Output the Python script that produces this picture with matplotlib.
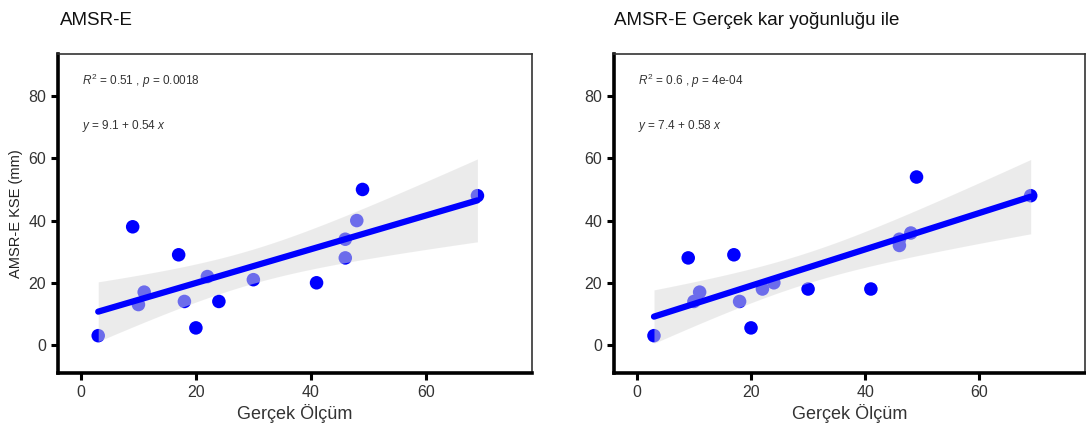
import numpy as np
import matplotlib
matplotlib.use("Agg")
import matplotlib.pyplot as plt

# Gerçek ölçüm (x) ve AMSR-E KSE (y), iki panel
x_obs = [3, 9, 10, 11, 17, 18, 20, 22, 24, 30, 41, 46, 46, 48, 49, 69]
y_amsr = [3, 38, 13, 17, 29, 14, 5.5, 22, 14, 21, 20, 34, 28, 40, 50, 48]
y_amsr_dens = [3, 28, 14, 17, 29, 14, 5.5, 18, 20, 18, 18, 34, 32, 36, 54, 48]

titles = ["AMSR-E", "AMSR-E Gerçek kar yoğunluğu ile"]
stat_labels = [r"$R^2$ = 0.51 , $p$ = 0.0018", r"$R^2$ = 0.6 , $p$ = 4e-04"]
eq_labels = [r"$y$ = 9.1 + 0.54 $x$", r"$y$ = 7.4 + 0.58 $x$"]
xticks = [0, 20, 40, 60]
yticks = [0, 20, 40, 60, 80]

plt.rcParams['font.family'] = ['Liberation Sans Narrow', 'Liberation Sans', 'DejaVu Sans']
plt.rcParams['mathtext.fontset'] = 'custom'
plt.rcParams['mathtext.rm'] = 'Liberation Sans'
plt.rcParams['mathtext.it'] = 'Liberation Sans:italic'


def fit_band(x, y, xs):
    x = np.asarray(x, float)
    y = np.asarray(y, float)
    n = len(x)
    b, a = np.polyfit(x, y, 1)
    resid = y - (a + b * x)
    s = np.sqrt(np.sum(resid ** 2) / (n - 2))
    t = 2.1448  # t(0.975, 14)
    se = s * np.sqrt(1 / n + (xs - x.mean()) ** 2 / np.sum((x - x.mean()) ** 2))
    yh = a + b * xs
    return yh, yh - t * se, yh + t * se


fig = plt.figure(figsize=(10.86, 4.28), dpi=100)
boxes = [[0.0534, 0.1285, 0.4365, 0.745], [0.5654, 0.1285, 0.4336, 0.745]]
ys = [y_amsr, y_amsr_dens]

for i in range(2):
    ax = fig.add_axes(boxes[i])
    xs = np.linspace(min(x_obs), max(x_obs), 80)
    yh, lo, hi = fit_band(x_obs, ys[i], xs)
    ax.scatter(x_obs, ys[i], s=95, color='#0000ff', edgecolors='none', zorder=2)
    ax.fill_between(xs, lo, hi, color='#d9d9d9', alpha=0.5, linewidth=0, zorder=3)
    ax.plot(xs, yh, color='#0000ff', lw=4.5, solid_capstyle='round', zorder=4)

    ax.set_xlim(-4, 78.5)
    ax.set_ylim(-9, 93.5)
    ax.set_xticks(xticks)
    ax.set_yticks(yticks)
    ax.tick_params(labelsize=11.5, width=2.2, length=5, color='black', labelcolor='#333333')
    for side in ['left', 'bottom']:
        ax.spines[side].set_linewidth(2.6)
        ax.spines[side].set_color('black')
    for side in ['top', 'right']:
        ax.spines[side].set_linewidth(1.2)
        ax.spines[side].set_color('#333333')

    ax.text(0.2, 85, stat_labels[i], fontsize=8.5, color='#333333', va='center')
    ax.text(0.2, 70.5, eq_labels[i], fontsize=8.5, color='#333333', va='center')

    ax.set_xlabel("Gerçek Ölçüm", fontsize=13, color='#333333', labelpad=3)
    ax.set_title(titles[i], fontsize=13.5, loc='left', x=0.005 if i == 0 else 0.0,
                 pad=21, fontfamily='Liberation Sans', color='#111111')

fig.axes[0].set_ylabel("AMSR-E KSE (mm)", fontsize=10.5, fontfamily='Liberation Sans',
                       color='#222222', labelpad=4)

plt.savefig("out.png", dpi=100)
